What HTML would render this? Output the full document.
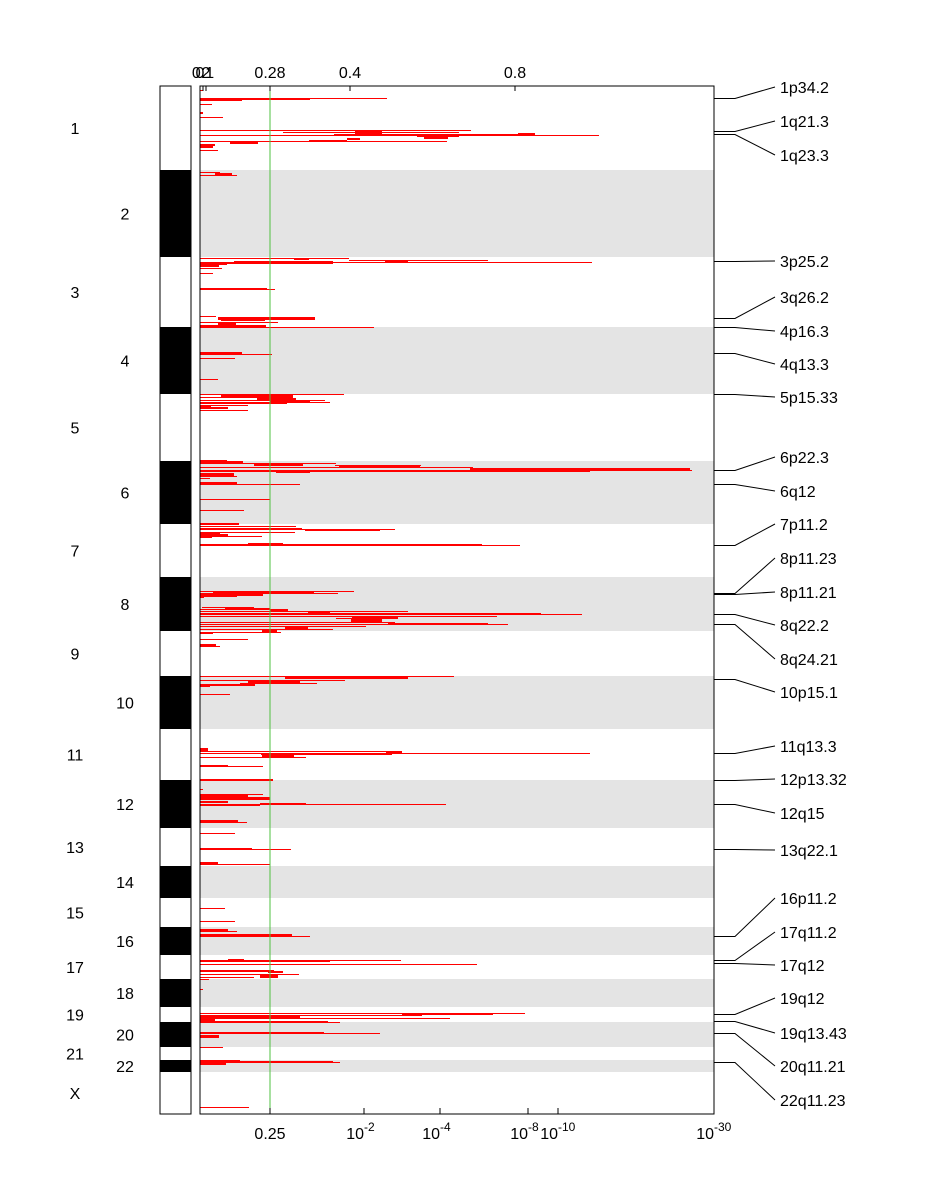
<!DOCTYPE html>
<html><head><meta charset="utf-8"><style>
html,body{margin:0;padding:0;background:#fff;width:948px;height:1200px;overflow:hidden}
svg text{font-family:"Liberation Sans",sans-serif;fill:#000}
</style></head><body>
<svg id="chart" width="948" height="1200" xmlns="http://www.w3.org/2000/svg" shape-rendering="crispEdges"></svg>
<script>
// Chromosome names and boundaries (genome units 0..1028)
const chromNames = ["1","2","3","4","5","6","7","8","9","10","11","12","13","14","15","16","17","18","19","20","21","22","X"];
const chromStarts = [0,84,171,241,308,375,438,491,545,590,643,694,742,780,812,841,869,893,921,936,961,974,986];
const chromEnd = 1028;
// Segments per chromosome: [genomic position, score start, score end, weight]
const chr1Segs = [[4,0,.03,1],[12,0,1.87,1],[13,0,1.10,1],[13,0,.42,3],[18,0,.12,1],[27,0,.03,2],[31,0,.23,1],[44,0,2.71,1],[46,.83,2.59,1],[46,1.55,1.82,3],[48,1.34,3.20,1],[48,3.18,3.35,2],[49,0,3.99,1],[50,2.17,2.59,1],[52,2.24,2.48,2],[53,1.47,1.60,2],[55,0,2.47,1],[55,1.09,1.47,2],[57,.30,.58,2],[59,0,.15,2],[61,0,.13,2],[64,0,.18,1]];
const chr2Segs = [[86,0,.20,1],[88,.15,.32,2],[89,0,.37,1]];
const chr3Segs = [[172,0,1.49,1],[173,.94,1.09,2],[174,1.49,2.88,1],[175,1.85,2.08,2],[176,0,3.92,1],[176,.34,1.33,3],[177,0,1.07,1],[178,0,.27,1],[180,0,.19,2],[182,0,.22,1],[187,0,.13,1],[203,0,.67,2],[203,0,.75,1],[230,0,.16,1],[232,.18,1.15,3],[234,.21,.65,2],[236,0,.78,1],[238,.18,.36,2],[240,0,.66,2],[241,0,1.74,1]];
const chr4Segs = [[267,0,.42,2],[268,0,.72,1],[272,0,.35,1],[293,0,.18,1]];
const chr5Segs = [[308,0,1.44,1],[310,.21,.93,3],[311,0,.83,1],[313,.57,.96,2],[314,0,1.25,1],[315,.70,1.10,3],[316,0,1.30,1],[317,0,.87,2],[319,0,.48,1],[320,0,.11,2],[322,0,.28,2],[324,0,.48,1]];
const chr6Segs = [[375,0,.27,2],[376,0,.43,2],[377,0,1.36,1],[378,.54,1.03,3],[379,1.35,2.21,1],[380,1.39,2.20,2],[381,0,2.73,1],[383,2.70,4.90,2],[384,0,4.92,1],[385,0,3.90,1],[386,.76,1.10,2],[388,0,.34,3],[390,0,.37,1],[392,0,.10,1],[397,0,.37,2],[398,0,1.00,1],[413,0,.70,1],[424,0,.44,1]];
const chr7Segs = [[438,0,.39,2],[440,0,.96,1],[442,0,1.02,1],[444,1.05,1.80,2],[443,0,1.95,1],[446,0,.95,1],[447,0,.20,2],[449,0,.28,2],[450,0,.62,1],[451,0,.12,2],[458,.48,.83,2],[458,0,2.15,1],[459,0,2.82,2],[459,0,3.20,1]];
const chr8Segs = [[505,0,1.54,1],[506,.13,1.14,3],[507,0,1.38,1],[509,0,.63,2],[510,0,.37,1],[511,0,.04,2],[521,.02,.54,1],[523,.25,.70,2],[523,0,.81,1],[524,.70,.88,2],[525,0,2.08,1],[526,1.08,1.30,2],[527,0,3.41,1],[528,2.97,3.41,2],[528,0,3.82,1],[530,0,2.97,1],[531,1.52,1.98,3],[532,1.36,1.92,1],[534,1.51,1.82,3],[536,0,1.95,1],[538,0,3.08,1],[538,1.88,2.88,2],[540,0,1.66,1],[542,.85,1.08,3],[543,0,1.33,1],[545,.62,.77,3],[546,0,.81,1],[547,0,.13,1],[553,0,.48,1],[559,0,.16,2],[560,0,.20,1]];
const chr10Segs = [[590,0,2.54,1],[591,1.01,1.56,3],[592,.85,2.08,2],[594,0,1.45,1],[596,.48,1.00,3],[597,.40,1.17,1],[599,0,.55,2],[600,0,.10,1],[608,0,.30,1]];
const chr11Segs = [[663,0,.08,3],[665,0,2.02,1],[667,0,3.90,1],[667,1.86,2.02,2],[668,.61,1.92,1],[670,.62,.94,3],[671,0,1.06,1],[680,0,.28,2],[680,0,.63,1]];
const chr12Segs = [[694,0,.73,2],[703,0,.03,1],[708,0,.63,1],[710,0,.48,2],[712,0,.70,3],[716,0,.28,2],[718,0,2.46,1],[718,.60,1.06,2],[719,0,.60,1],[735,0,.38,2],[736,0,.47,1]];
const chr13Segs = [[747,0,.35,1],[763,0,.52,2],[763,0,.91,1],[777,0,.18,2],[778,0,.70,1]];
const chr15Segs = [[822,0,.25,1],[835,0,.35,1]];
const chr16Segs = [[844,0,.28,2],[845,0,.37,1],[849,0,.92,3],[850,0,1.10,1]];
const chr17Segs = [[874,.28,.44,3],[874,0,2.01,1],[875,0,1.30,2],[878,0,2.77,1],[885,0,.74,2],[886,.68,.83,2],[888,0,.99,1],[890,.60,.78,3],[891,0,.54,1],[893,0,.09,1]];
const chr18Segs = [[903,0,.03,1]];
const chr19Segs = [[927,0,3.25,1],[928,2.02,2.93,2],[929,0,2.22,1],[931,0,1.00,3],[932,0,2.50,1],[934,0,.15,2],[935,0,1.28,1],[936,0,1.40,1]];
const chr20Segs = [[947,0,1.24,2],[947,0,1.80,1],[950,0,.19,3],[961,0,.23,1]];
const chr22Segs = [[975,0,.40,3],[976,0,1.40,1],[976,.19,1.33,2],[978,0,.26,2]];
const chrXSegs = [[1021,0,.49,1]];
// Peak labels
const peakNames = ["1p34.2","1q21.3","1q23.3","3p25.2","3q26.2","4p16.3","4q13.3","5p15.33","6p22.3","6q12","7p11.2","8p11.23","8p11.21","8q22.2","8q24.21","10p15.1","11q13.3","12p13.32","12q15","13q22.1","16p11.2","17q11.2","17q12","19q12","19q13.43","20q11.21","22q11.23"];
const peakPos   = [12,45,48,175,232,241,267,308,384,398,459,507,508,528,538,593,667,694,718,763,850,874,877,928,935,947,976];
const topTickLabels = ["0","0.1","2","0.28","0.4","0.8"];
const topTickVals   = [0,0.03,0.06,0.70,1.50,3.15];
const botTickLabels = ["0.25","10","10","10","10","10"];
const botTickExp    = ["","-2","-4","-8","-10","-30"];
const botTickVals   = [0.70,1.64,2.40,3.28,3.58,5.14];
const threshold = 0.70;

const allSegs=[].concat(chr1Segs,chr2Segs,chr3Segs,chr4Segs,chr5Segs,chr6Segs,chr7Segs,chr8Segs,chr10Segs,chr11Segs,chr12Segs,chr13Segs,chr15Segs,chr16Segs,chr17Segs,chr18Segs,chr19Segs,chr20Segs,chr22Segs,chrXSegs);
const NS="http://www.w3.org/2000/svg";
const svg=document.getElementById('chart');
const PL=200,PR=714,PT=86,PB=1114;
const xS=v=>PL+v*(PR-PL)/5.14;
const yS=g=>PT+g*(PB-PT)/chromEnd;
function mk(t,a,p){const e=document.createElementNS(NS,t);for(const k in a)e.setAttribute(k,a[k]);(p||svg).appendChild(e);return e;}

for(let i=0;i<chromNames.length;i++){
  const y0=Math.round(yS(chromStarts[i])),y1=Math.round(yS(i+1<chromNames.length?chromStarts[i+1]:chromEnd));
  if(i%2===1){
    const b=mk('rect',{x:PL,y:y0,width:PR-PL,height:y1-y0,fill:'#e4e4e4'});
    
    
  }
  const c=mk('rect',{x:160,y:y0,width:31,height:y1-y0,fill:i%2===1?'#000':'#fff'});
  
  
  const t=mk('text',{x:i%2===0?75:125,y:(y0+y1)/2+6,'font-size':16,'text-anchor':'middle'});
  t.textContent=chromNames[i];
  
  
}
const ib=mk('rect',{x:160,y:PT,width:31,height:PB-PT,fill:'none',stroke:'#000','stroke-width':1});



for(const s of allSegs){
  const y=Math.round(yS(s[0])-s[3]/2);
  const x0=Math.round(xS(s[1])),x1=Math.round(xS(s[2]));
  const r=mk('rect',{x:x0,y:y,width:Math.max(1,x1-x0),height:s[3],fill:'#ff0000'});
  
  
}
const tx=Math.round(xS(threshold));
const th=mk('line',{x1:tx,x2:tx,y1:PT,y2:PB,stroke:'#4fc040','stroke-width':1});


const fr=mk('rect',{x:PL,y:PT,width:PR-PL,height:PB-PT,fill:'none',stroke:'#000','stroke-width':1});



for(let i=0;i<topTickVals.length;i++){
  const x=Math.round(xS(topTickVals[i]));
  mk('line',{x1:x,x2:x,y1:PT,y2:PT+5,stroke:'#000'});
  const t=mk('text',{x:x,y:78,'font-size':16,'text-anchor':'middle'});
  t.textContent=topTickLabels[i];
  
  
}
for(let i=0;i<botTickVals.length;i++){
  const x=Math.round(xS(botTickVals[i]));
  mk('line',{x1:x,x2:x,y1:PB,y2:PB-6,stroke:'#000'});
  const t=mk('text',{x:x,y:1139,'font-size':16,'text-anchor':botTickExp[i]?'end':'middle'});
  t.textContent=botTickLabels[i];
  
  
  if(botTickExp[i]){
    const s=mk('text',{x:x,y:1131,'font-size':12,'text-anchor':'start'});
    s.textContent=botTickExp[i];
    
    
  }
}
const labelY=[87,121,155,261,297,331,364,397,457,491,524,558,592,625,659,692,746,779,813,850,898,932,965,998,1033,1066,1100];
for(let i=0;i<peakNames.length;i++){
  const py=Math.round(yS(peakPos[i]))+0.5;
  const ly=labelY[i];
  const p=mk('polyline',{points:`${PR},${py} 735,${py} 775,${ly}`,fill:'none',stroke:'#000','stroke-width':1,'shape-rendering':'auto'});
  
  
  const t=mk('text',{x:780,y:ly+6,'font-size':16});
  t.textContent=peakNames[i];
  
  
}
</script>
</body></html>
